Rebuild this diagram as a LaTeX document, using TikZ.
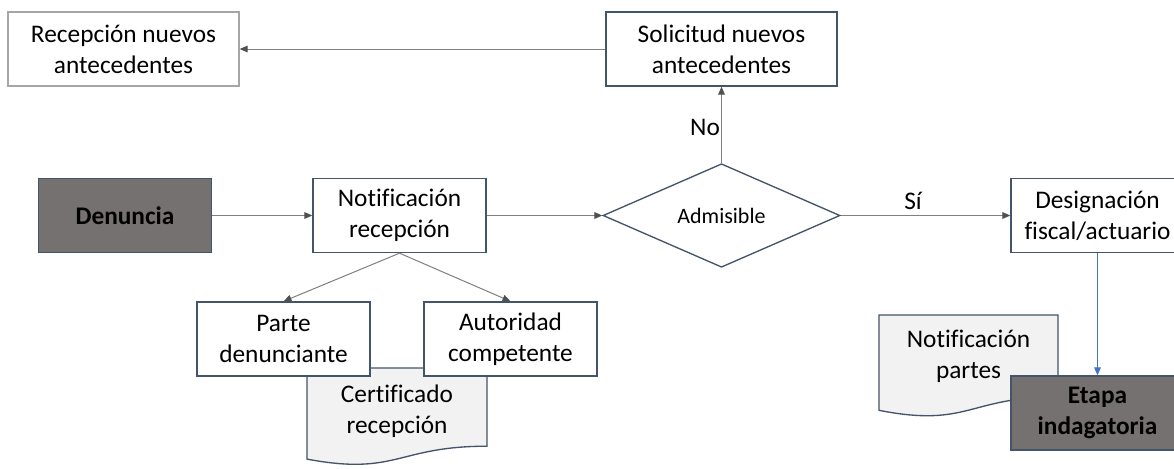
\documentclass[tikz,border=0pt]{standalone}
\usepackage{fontspec}
\setmainfont{Carlito}[Ligatures=CommonOff]
\usetikzlibrary{arrows.meta,shapes.geometric}
\definecolor{bord}{HTML}{44546A}
\definecolor{lightbord}{HTML}{A6A6A6}
\definecolor{darkfill}{HTML}{767171}
\definecolor{lineg}{HTML}{808080}
\definecolor{tipg}{HTML}{505050}
\definecolor{blueline}{HTML}{4472C4}
\definecolor{docfill}{HTML}{F2F2F2}
\begin{document}
\begin{tikzpicture}[x=0.75pt,y=-0.75pt,
  box/.style={draw=bord,line width=1pt,fill=white,minimum width=129.75pt,minimum height=55.5pt,inner sep=0pt,align=center,font=\fontsize{19}{23.25}\selectfont},
  widebox/.style={box,minimum width=173.25pt},
  darkbox/.style={box,fill=darkfill,font=\fontsize{19}{23.25}\selectfont\bfseries},
  docshape/.style={draw=bord,line width=1pt,fill=docfill},
  doctext/.style={align=center,inner sep=0pt,font=\fontsize{19}{23.25}\selectfont},
  lbl/.style={inner sep=0pt,font=\fontsize{19}{23.25}\selectfont},
  conn/.style={draw=lineg,line width=0.75pt,-{Triangle[length=6pt,width=5pt,color=tipg]}},
  blueconn/.style={draw=blueline,line width=0.75pt,-{Triangle[length=6pt,width=5pt,color=blueline]}},
]
\useasboundingbox (0,0) rectangle (1174,468);
\clip (0,0) rectangle (1174,468);
\fill[white] (0,0) rectangle (1174,468);

% document shapes (behind boxes)
\draw[docshape] (307,368) -- (487,368) -- (487,446.2)
  .. controls (397,446.2) and (397,476) .. (307,459.1) -- cycle;
\node[doctext] (cert) at (397,411) {Certificado\\recepción};
\draw[docshape] (879,315) -- (1058,315) -- (1058,396.8)
  .. controls (968.5,396.8) and (968.5,428) .. (879,410.3) -- cycle;
\node[doctext] (notp) at (968.5,356.5) {Notificación\\partes};

% boxes
\node[widebox,draw=lightbord] (rec) at (123.5,49) {Recepción nuevos\\antecedentes};
\node[widebox] (sol) at (721.5,49) {Solicitud nuevos\\antecedentes};
\node[darkbox] (den) at (125,215.5) {Denuncia};
\node[box] (notif) at (399.5,215.5) {Notificación\\recepción};
\node[diamond,draw=bord,line width=1pt,fill=white,inner sep=0pt,minimum width=177.75pt,minimum height=71.25pt,font=\fontsize{16.5}{20}\selectfont] (adm) at (721.5,215.5) {Admisible};
\node[box] (des) at (1097.5,215.5) {Designación\\fiscal/actuario};
\node[box] (parte) at (283.5,339) {Parte\\denunciante};
\node[box] (aut) at (510.5,339) {Autoridad\\competente};
\node[darkbox] (eta) at (1097.5,413) {Etapa\\indagatoria};

% labels
\node[lbl] (no) at (705,127) {No};
\node[lbl] (si) at (913,201) {Sí};

% connectors
\draw[conn] (sol.west) -- (rec.east);
\draw[conn] (den.east) -- (notif.west);
\draw[conn] (notif.east) -- (adm.west);
\draw[conn] (adm.east) -- (des.west);
\draw[conn] (adm.north) -- (sol.south);
\draw[conn] (notif.south) -- (parte.north);
\draw[conn] (notif.south) -- (aut.north);
\draw[blueconn] (des.south) -- (eta.north);
\end{tikzpicture}
\end{document}
